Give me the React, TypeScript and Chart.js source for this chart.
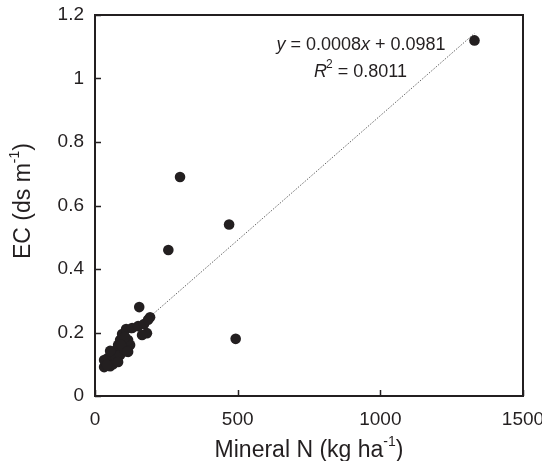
import React, { useEffect, useRef } from "react";
import { Chart, registerables } from "chart.js";

Chart.register(...registerables);

const mineralN: number[] = [
  32, 39, 46, 32, 53, 63, 60, 74, 81, 88, 70, 88, 102, 116, 123, 116, 95, 109, 130, 151, 172, 182, 165, 105, 53, 42, 81, 91, 113,
  155, 193, 186, 257, 298, 470, 493, 1330,
];
const ecValues: number[] = [
  0.091, 0.107, 0.12, 0.113, 0.094, 0.1, 0.129, 0.145, 0.161, 0.176, 0.126, 0.129, 0.148, 0.139, 0.161, 0.176, 0.195, 0.211, 0.214,
  0.22, 0.227, 0.198, 0.192, 0.186, 0.142, 0.098, 0.107, 0.161, 0.14,
  0.28, 0.248, 0.24, 0.46, 0.69, 0.54, 0.18, 1.12,
];
const trendX: number[] = [30, 1330];
const trendY: number[] = [0.122, 1.142];
const xTicks: number[] = [0, 500, 1000, 1500];
const yTicks: number[] = [0, 0.2, 0.4, 0.6, 0.8, 1, 1.2];
const equationText = "0.0008";
const interceptText = "0.0981";
const r2Text = "0.8011";

const INK = "#231f20";
const FONT = "'Liberation Sans', Arial, sans-serif";
const TITLE = 23;
const TSUP = 14;
const ANN = 18;

const framePlugin = {
  id: "frame",
  afterDraw(chart: any) {
    const { ctx, chartArea: a, scales } = chart;
    const xs = scales.x;
    const ys = scales.y;
    ctx.save();
    ctx.strokeStyle = INK;
    ctx.lineWidth = 1.5;
    ctx.beginPath();
    yTicks.forEach((v) => {
      const py = Math.round(ys.getPixelForValue(v)) + 0.5;
      ctx.moveTo(a.left, py);
      ctx.lineTo(a.left + 6, py);
    });
    xTicks.forEach((v) => {
      const px = Math.round(xs.getPixelForValue(v)) + 0.5;
      ctx.moveTo(px, a.bottom);
      ctx.lineTo(px, a.bottom - 6);
    });
    ctx.stroke();
    ctx.lineWidth = 2;
    ctx.strokeRect(a.left, a.top, a.right - a.left, a.bottom - a.top);

    ctx.fillStyle = INK;
    ctx.textBaseline = "middle";
    const cx = (a.left + a.right) / 2;
    const xMain = "Mineral N (kg ha";
    const xSup = "-1";
    const xEnd = ")";
    ctx.font = `${TITLE}px ${FONT}`;
    const w1 = ctx.measureText(xMain).width;
    const w3 = ctx.measureText(xEnd).width;
    ctx.font = `${TSUP}px ${FONT}`;
    const w2 = ctx.measureText(xSup).width;
    const sx = cx - (w1 + w2 + w3) / 2;
    const ty = 451;
    ctx.textAlign = "left";
    ctx.font = `${TITLE}px ${FONT}`;
    ctx.fillText(xMain, sx, ty);
    ctx.font = `${TSUP}px ${FONT}`;
    ctx.fillText(xSup, sx + w1, ty - 9);
    ctx.font = `${TITLE}px ${FONT}`;
    ctx.fillText(xEnd, sx + w1 + w2, ty);

    const yMain = "EC (ds m";
    const ySup = "-1";
    const yEnd = ")";
    ctx.font = `${TITLE}px ${FONT}`;
    const v1 = ctx.measureText(yMain).width;
    const v3 = ctx.measureText(yEnd).width;
    ctx.font = `${TSUP}px ${FONT}`;
    const v2 = ctx.measureText(ySup).width;
    ctx.translate(24, 201);
    ctx.rotate(-Math.PI / 2);
    const sy = -(v1 + v2 + v3) / 2;
    ctx.font = `${TITLE}px ${FONT}`;
    ctx.fillText(yMain, sy, 0);
    ctx.font = `${TSUP}px ${FONT}`;
    ctx.fillText(ySup, sy + v1, -9);
    ctx.font = `${TITLE}px ${FONT}`;
    ctx.fillText(yEnd, sy + v1 + v2, 0);
    ctx.setTransform(1, 0, 0, 1, 0, 0);

    const parts1: [string, string][] = [
      ["y", "italic"],
      [" = " + equationText, ""],
      ["x", "italic"],
      [" + " + interceptText, ""],
    ];
    ctx.textAlign = "left";
    let total = 0;
    parts1.forEach(([t, s]) => {
      ctx.font = `${s} ${ANN}px ${FONT}`;
      total += ctx.measureText(t).width;
    });
    const eqCx = 361;
    let px = eqCx - total / 2;
    parts1.forEach(([t, s]) => {
      ctx.font = `${s} ${ANN}px ${FONT}`;
      ctx.fillText(t, px, 45);
      px += ctx.measureText(t).width;
    });
    ctx.font = `italic ${ANN}px ${FONT}`;
    const rw = ctx.measureText("R").width;
    ctx.font = `12px ${FONT}`;
    const sw = ctx.measureText("2").width;
    ctx.font = `${ANN}px ${FONT}`;
    const tw = ctx.measureText(" = " + r2Text).width;
    const rx = eqCx - (rw + sw + tw) / 2;
    ctx.font = `italic ${ANN}px ${FONT}`;
    ctx.fillText("R", rx, 72);
    ctx.font = `12px ${FONT}`;
    ctx.fillText("2", rx + rw - 1, 65);
    ctx.font = `${ANN}px ${FONT}`;
    ctx.fillText(" = " + r2Text, rx + rw + sw - 1, 72);
    ctx.restore();
  },
};

export default function App() {
  const ref = useRef<HTMLCanvasElement | null>(null);
  useEffect(() => {
    document.body.style.margin = "0";
    const canvas = ref.current;
    if (!canvas) return;
    const points = mineralN.map((x, i) => ({ x, y: ecValues[i] }));
    const trend = trendX.map((x, i) => ({ x, y: trendY[i] }));
    const chart = new Chart(canvas, {
      type: "scatter",
      data: {
        datasets: [
          {
            data: points,
            backgroundColor: INK,
            borderColor: INK,
            pointRadius: 5.3,
            pointBorderWidth: 0,
            order: 1,
          },
          {
            data: trend,
            showLine: true,
            borderColor: "#666666",
            borderWidth: 1,
            borderDash: [1.5, 1.5],
            pointRadius: 0,
            order: 2,
          } as any,
        ],
      },
      options: {
        responsive: false,
        animation: false,
        layout: { padding: { top: 15, right: 19, left: 0, bottom: 0 } },
        plugins: { legend: { display: false }, tooltip: { enabled: false } },
        scales: {
          x: {
            type: "linear",
            min: 0,
            max: 1500,
            afterBuildTicks: (s: any) => {
              s.ticks = xTicks.map((v) => ({ value: v }));
            },
            afterFit: (s: any) => {
              s.height = 65;
              s.paddingLeft = 0;
              s.paddingRight = 0;
            },
            grid: { display: false, drawTicks: false },
            border: { display: false },
            ticks: {
              color: INK,
              padding: 12,
              maxRotation: 0,
              font: { family: FONT, size: 19 },
              callback: (v: any) => String(v),
            },
          },
          y: {
            type: "linear",
            min: 0,
            max: 1.2,
            afterBuildTicks: (s: any) => {
              s.ticks = yTicks.map((v) => ({ value: v }));
            },
            afterFit: (s: any) => {
              s.width = 95;
              s.paddingTop = 0;
              s.paddingBottom = 0;
            },
            grid: { display: false, drawTicks: false },
            border: { display: false },
            ticks: {
              color: INK,
              padding: 11,
              font: { family: FONT, size: 19 },
              callback: (v: any) => String(Math.round(Number(v) * 10) / 10),
            },
          },
        },
      },
      plugins: [framePlugin],
    });
    return () => chart.destroy();
  }, []);
  return (
    <div style={{ width: 542, height: 461 }}>
      <canvas ref={ref} width={542} height={461} style={{ display: "block" }} />
    </div>
  );
}
